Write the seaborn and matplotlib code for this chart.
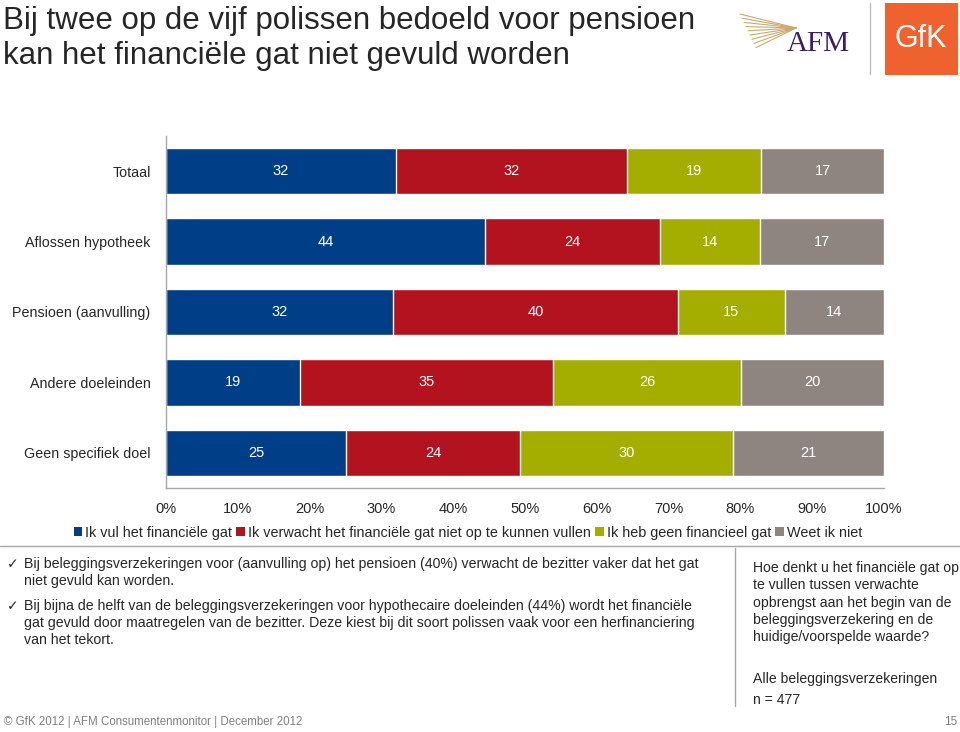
import numpy as np
import pandas as pd
import matplotlib
matplotlib.use("Agg")
import matplotlib.pyplot as plt
import seaborn as sns
from matplotlib.patches import Patch, Rectangle
from matplotlib.lines import Line2D

# -----------------------------
# Data (percentages)
# -----------------------------
categories = ["Totaal", "Aflossen hypotheek", "Pensioen (aanvulling)",
              "Andere doeleinden", "Geen specifiek doel"]
series_names = ["Ik vul het financiële gat",
                "Ik verwacht het financiële gat niet op te kunnen vullen",
                "Ik heb geen financieel gat",
                "Weet ik niet"]
vul = [32.0, 44.4, 31.6, 18.7, 25.1]
verwacht = [32.2, 24.4, 39.7, 35.2, 24.2]
geen_gat = [18.7, 13.9, 14.9, 26.2, 29.6]
weet_niet = [17.1, 17.3, 13.8, 19.9, 21.1]
x_ticks = [0, 10, 20, 30, 40, 50, 60, 70, 80, 90, 100]
x_tick_labels = [f"{t}%" for t in x_ticks]

colors = ["#003F87", "#B3121F", "#A3AE00", "#8F8580"]

W, H = 960, 732

def fx(px):
    return px / W

def fy(py):
    return 1 - py / H

# -----------------------------
# Figure setup
# -----------------------------
sns.set_style("white")
plt.rcParams["font.family"] = ["Liberation Sans", "DejaVu Sans"]

fig = plt.figure(figsize=(9.6, 7.32), dpi=100)
ax = fig.add_axes([fx(166), fy(488), fx(884) - fx(166), fy(136) - fy(488)])

df = pd.DataFrame({"categorie": categories, "vul": vul, "verwacht": verwacht,
                   "geen_gat": geen_gat, "weet_niet": weet_niet})
cols = ["vul", "verwacht", "geen_gat", "weet_niet"]
cum = df[cols].cumsum(axis=1)

# stacked bars: draw cumulative totals from the back to the front
for i in reversed(range(len(cols))):
    sns.barplot(x=cum[cols[i]], y=df["categorie"], color=colors[i], orient="h",
                width=0.66, saturation=1, ax=ax)

# value labels in the middle of every segment
for r in range(len(df)):
    left = 0
    for c in cols:
        v = df.loc[r, c]
        ax.text(left + v / 2, r, f"{v:.0f}", ha="center", va="center",
                color="white", fontsize=10.5)
        left += v

ax.set_xlim(0, 100)
ax.set_ylim(len(categories) - 0.5, -0.5)
ax.set_xticks(x_ticks)
ax.set_xticklabels(x_tick_labels, fontsize=10.5)
ax.set_xlabel("")
ax.set_ylabel("")
ax.tick_params(axis="y", which="major", length=0, pad=11, labelsize=10.3)
ax.set_yticks(np.arange(-0.5, len(categories)), minor=True)
ax.tick_params(axis="y", which="minor", length=4, color="#A6A6A6", direction="out")
ax.tick_params(axis="x", length=4, color="#A6A6A6", direction="out", pad=6)
sns.despine(ax=ax)
for s in ["left", "bottom"]:
    ax.spines[s].set_color("#A6A6A6")
    ax.spines[s].set_linewidth(1)

# legend
handles = [Patch(facecolor=c, edgecolor="none") for c in colors]
fig.legend(handles, series_names, loc="center", bbox_to_anchor=(fx(468), fy(533)),
           ncol=4, frameon=False, fontsize=10.4, handlelength=0.6, handleheight=0.6,
           handletextpad=0.2, columnspacing=0.3)

# -----------------------------
# Title and logos
# -----------------------------
fig.text(fx(3), fy(21), "Bij twee op de vijf polissen bedoeld voor pensioen",
         fontsize=22.5, va="center", ha="left")
fig.text(fx(3), fy(56), "kan het financiële gat niet gevuld worden",
         fontsize=22.5, va="center", ha="left")

for k in range(9):
    y0 = 14 + k * 4.2
    fig.add_artist(Line2D([fx(740 + k * 2), fx(796)], [fy(y0), fy(28)],
                          transform=fig.transFigure, color="#C9AA6E", lw=0.8))
fig.text(fx(818), fy(44), "AFM", family="Liberation Serif", fontsize=21,
         color="#3A1E6A", ha="center", va="center")
fig.add_artist(Line2D([fx(870), fx(870)], [fy(3), fy(74)], transform=fig.transFigure,
                      color="#BFBFBF", lw=1))
fig.add_artist(Rectangle((fx(885), fy(75)), fx(73), 72 / H, transform=fig.transFigure,
                         facecolor="#EF6230", edgecolor="none"))
fig.text(fx(921), fy(39), "GfK", fontsize=22, color="white", ha="center", va="center")

# -----------------------------
# Separators and text blocks
# -----------------------------
fig.add_artist(Line2D([0, 1], [fy(546), fy(546)], transform=fig.transFigure,
                      color="#A6A6A6", lw=1))
fig.add_artist(Line2D([fx(735), fx(735)], [fy(548), fy(706)], transform=fig.transFigure,
                      color="#A6A6A6", lw=1))

bullets = [
    (564, "✓", "Bij beleggingsverzekeringen voor (aanvulling op) het pensioen (40%) verwacht de bezitter vaker dat het gat"),
    (581, "", "niet gevuld kan worden."),
    (606, "✓", "Bij bijna de helft van de beleggingsverzekeringen voor hypothecaire doeleinden (44%) wordt het financiële"),
    (623, "", "gat gevuld door maatregelen van de bezitter. Deze kiest bij dit soort polissen vaak voor een herfinanciering"),
    (640, "", "van het tekort."),
]
for y, mark, line in bullets:
    if mark:
        fig.text(fx(7), fy(y), mark, fontsize=10, va="center", ha="left",
                 family=["DejaVu Sans"])
    fig.text(fx(24), fy(y), line, fontsize=10.2, va="center", ha="left")

side = [(568, "Hoe denkt u het financiële gat op"),
        (585, "te vullen tussen verwachte"),
        (603, "opbrengst aan het begin van de"),
        (620, "beleggingsverzekering en de"),
        (637, "huidige/voorspelde waarde?"),
        (679, "Alle beleggingsverzekeringen"),
        (700, "n = 477")]
for y, line in side:
    fig.text(fx(753), fy(y), line, fontsize=10.1, va="center", ha="left")

fig.text(fx(4), fy(722), "© GfK 2012 | AFM Consumentenmonitor | December 2012",
         fontsize=8.3, color="#7F7F7F", va="center", ha="left")
fig.text(fx(957), fy(722), "15", fontsize=8.5, color="#7F7F7F", va="center", ha="right")

fig.savefig("out.png", dpi=100)
